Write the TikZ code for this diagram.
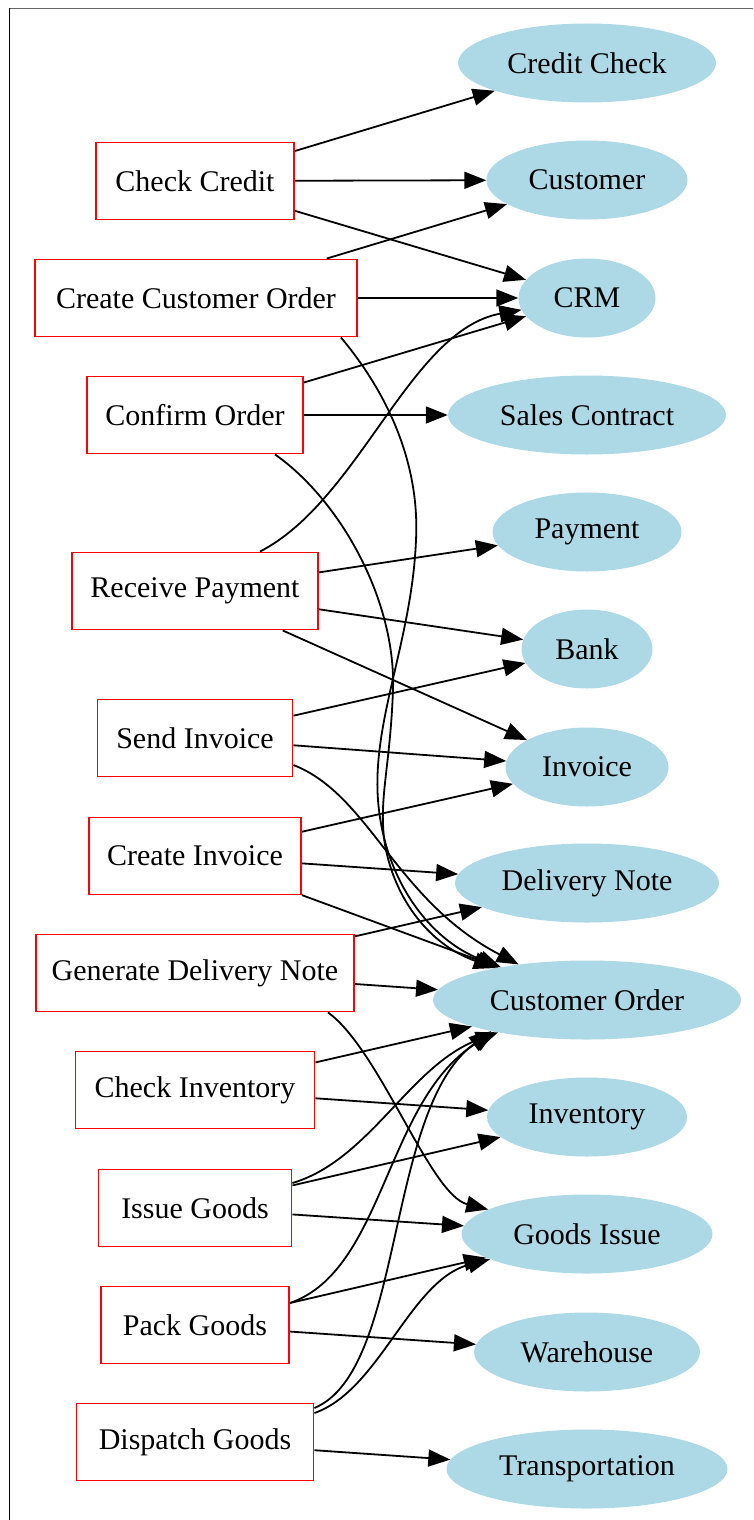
\documentclass[tikz,border=0pt]{standalone}
\usepackage{fontspec}
\setmainfont{Liberation Serif}
\usetikzlibrary{arrows.meta,shapes.geometric}
\definecolor{lightblue}{HTML}{ADD8E6}
\begin{document}
\begin{tikzpicture}[x=1pt,y=-1pt,
  task/.style={draw=red,line width=1.9pt,fill=white,minimum height=77pt,
    inner sep=0pt,font=\fontsize{30}{36}\selectfont},
  obj/.style={ellipse,fill=lightblue,draw=none,minimum height=79pt,
    inner sep=0pt,font=\fontsize{30}{36}\selectfont},
  link/.style={line width=1.8pt,-{Triangle[length=22pt,width=17pt]}}]
\useasboundingbox (0,0) rectangle (753,1520);
% frame
\draw[line width=1pt,gray!80!black] (9.5,8.5) -- (753,8.5);
\draw[line width=1pt,black] (9.5,8.5) -- (9.5,1520);

% process steps
\node[task,minimum width=198pt] (cc)   at (195,181)  {Check Credit};
\node[task,minimum width=322pt] (cco)  at (196,298)  {Create Customer Order};
\node[task,minimum width=216pt] (conf) at (195,415)  {Confirm Order};
\node[task,minimum width=246pt] (rpay) at (195,591)  {Receive Payment};
\node[task,minimum width=195pt] (sinv) at (195,738)  {Send Invoice};
\node[task,minimum width=212pt] (cinv) at (195,856)  {Create Invoice};
\node[task,minimum width=318pt] (gdn)  at (195,973)  {Generate Delivery Note};
\node[task,minimum width=239pt] (cinvt) at (195,1090) {Check Inventory};
\node[task,minimum width=193pt] (ig)   at (195,1208) {Issue Goods};
\node[task,minimum width=188pt] (pg)   at (195,1325) {Pack Goods};
\node[task,minimum width=237pt] (dg)   at (195,1442) {Dispatch Goods};

% business objects
\node[obj,minimum width=258pt] (ccheck) at (587,63)   {Credit Check};
\node[obj,minimum width=201pt] (cust)   at (587,180)  {Customer};
\node[obj,minimum width=137pt] (crm)    at (587,298)  {CRM};
\node[obj,minimum width=278pt] (sc)     at (587,415)  {Sales Contract};
\node[obj,minimum width=189pt] (pay)    at (587,532)  {Payment};
\node[obj,minimum width=131pt] (bank)   at (587,649)  {Bank};
\node[obj,minimum width=163pt] (inv)    at (587,767)  {Invoice};
\node[obj,minimum width=264pt] (dn)     at (587,883)  {Delivery Note};
\node[obj,minimum width=308pt] (corder) at (587,1000) {Customer Order};
\node[obj,minimum width=200pt] (invt)   at (587,1117) {Inventory};
\node[obj,minimum width=251pt] (gi)     at (587,1234) {Goods Issue};
\node[obj,minimum width=226pt] (wh)     at (587,1352) {Warehouse};
\node[obj,minimum width=281pt] (tr)     at (587,1469) {Transportation};

% straight links
\draw[link] (cc) -- (ccheck);
\draw[link] (cc) -- (cust);
\draw[link] (cc) -- (crm);
\draw[link] (cco) -- (cust);
\draw[link] (cco) -- (crm);
\draw[link] (conf) -- (crm);
\draw[link] (conf) -- (sc);
\draw[link] (rpay) -- (pay);
\draw[link] (rpay) -- (bank);
\draw[link] (rpay) -- (inv);
\draw[link] (sinv) -- (bank);
\draw[link] (sinv) -- (inv);
\draw[link] (cinv) -- (inv);
\draw[link] (cinv) -- (dn);
\draw[link] (cinv) -- (corder);
\draw[link] (gdn) -- (dn);
\draw[link] (gdn) -- (corder);
\draw[link] (cinvt) -- (corder);
\draw[link] (cinvt) -- (invt);
\draw[link] (ig) -- (invt);
\draw[link] (ig) -- (gi);
\draw[link] (pg) -- (gi);
\draw[link] (pg) -- (wh);
\draw[link] (dg) -- (tr);

% curved links
\draw[link] ([xshift=-17pt]cco.south east)
  .. controls (385,390) and (420,460) .. (416,540)
  .. controls (412,640) and (372,720) .. (378,800)
  .. controls (384,880) and (430,940) .. (corder);
\draw[link] ([xshift=80pt]conf.south)
  .. controls (340,500) and (396,600) .. (393,690)
  .. controls (390,770) and (378,800) .. (385,845)
  .. controls (395,900) and (430,945) .. (corder);
\draw[link] ([yshift=-27pt]sinv.east)
  .. controls (370,795) and (395,900) .. (corder);
\draw[link] ([xshift=65pt]rpay.north)
  .. controls (360,500) and (410,330) .. (crm);
\draw[link] ([xshift=133pt]gdn.south)
  .. controls (380,1050) and (430,1195) .. (gi);
\draw[link] ([yshift=25pt]ig.east)
  .. controls (370,1160) and (410,1065) .. (corder.200);
\draw[link] ([yshift=22pt]pg.east)
  .. controls (385,1270) and (385,1100) .. (corder.199);
\draw[link] ([yshift=34pt]dg.east)
  .. controls (405,1370) and (385,1110) .. (corder.198);
\draw[link] ([yshift=29pt]dg.east)
  .. controls (380,1390) and (410,1280) .. (gi);
\end{tikzpicture}
\end{document}
